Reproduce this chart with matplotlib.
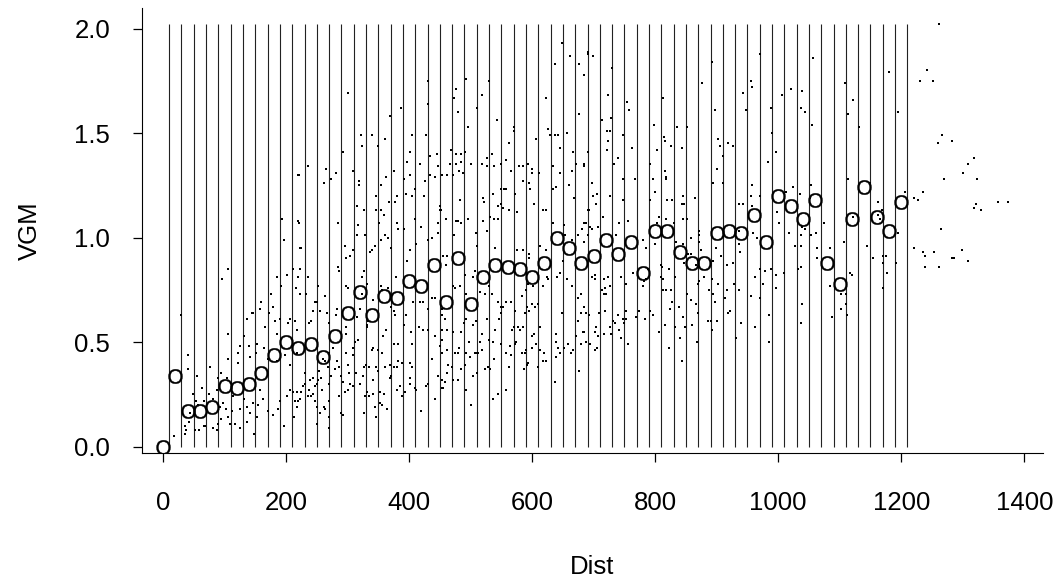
import matplotlib
matplotlib.use('Agg')
import matplotlib.pyplot as plt
from matplotlib.path import Path
from matplotlib.textpath import TextPath
from matplotlib.font_manager import FontProperties

plt.rcParams['font.family'] = 'Liberation Sans'

# binned semivariance, bin centres every 20
bin_dist = list(range(0, 1201, 20))
bin_vgm = [0.00, 0.34, 0.17, 0.17, 0.19, 0.29, 0.28, 0.30, 0.35, 0.44,
           0.50, 0.47, 0.49, 0.43, 0.53, 0.64, 0.74, 0.63, 0.72, 0.71,
           0.79, 0.77, 0.87, 0.69, 0.90, 0.68, 0.81, 0.87, 0.86, 0.85,
           0.81, 0.88, 1.00, 0.95, 0.88, 0.91, 0.99, 0.92, 0.98, 0.83,
           1.03, 1.03, 0.93, 0.88, 0.88, 1.02, 1.03, 1.02, 1.11, 0.98,
           1.20, 1.15, 1.09, 1.18, 0.88, 0.78, 1.09, 1.24, 1.10, 1.03,
           1.17]
bin_breaks = list(range(10, 1211, 20))

cloud_a = [(29,0.63),(18,0.05),(35,0.06),(36,0.10),(37,0.08),(43,0.12),(44,0.16),(40,0.44),(41,0.37),(56,0.34),
    (52,0.08),(59,0.08),(66,0.10),(68,0.10),(49,0.25),(54,0.22),(57,0.20),(63,0.28),(66,0.22),(74,0.25),
    (76,0.38),(82,0.23),(82,0.09),(87,0.27),(87,0.08),(90,0.33),(90,0.11),(93,0.19),(95,0.35),(95,0.13),
    (96,0.80),(98,0.21),(103,0.18),(104,0.33),(105,0.42),(106,0.85),(106,0.54),(106,0.14),(109,0.11),(112,0.17),
    (114,0.24),(117,0.11),(122,0.45),(122,0.40),(125,0.48),(125,0.18),(125,0.09),(131,0.53),(131,0.23),(136,0.61),
    (136,0.19),(136,0.12),(139,0.48),(141,0.43),(141,0.16),(144,0.64),(147,0.64),(147,0.21),(148,0.06),(151,0.45),
    (152,0.49),(152,0.14),(155,0.20),(158,0.66),(158,0.27),(160,0.69),(163,0.23),(164,0.47),(166,0.57),(170,0.42),
    (171,0.17),(172,0.64),(175,0.73),(179,0.67),(179,0.15),(182,0.60),(185,0.54),(185,0.41),(186,0.81),(187,0.18),
    (190,0.61),(190,0.22),(192,0.77),(193,1.09),(196,0.99),(196,0.10),(198,0.44),(201,0.24),(202,0.82),(203,0.59),
    (206,0.61),(206,0.39),(206,0.27),(211,0.85),(212,0.26),(213,0.14),(214,0.60),(214,0.22),(216,0.76),(217,0.56),
    (217,0.45),(217,0.19),(220,1.30),(220,1.08),(220,0.81),(222,0.95)]

cloud_b = [(300,1.69),(431,1.75),(430,1.64),(387,1.62),(369,1.58),(340,1.49),(321,1.49),(361,1.47),(405,1.49),(427,1.49),
    (323,1.44),(350,1.44),(292,1.41),(401,1.41),(446,1.40),(434,1.39),(396,1.36),(417,1.35),(236,1.34),(221,1.30),
    (265,1.33),(273,1.28),(262,1.26),(281,1.31),(309,1.32),(318,1.27),(319,1.25),(375,1.32),(363,1.29),(354,1.25),
    (401,1.30),(391,1.28),(410,1.23),(395,1.21),(381,1.20),(368,1.17),(377,1.17),(405,1.20),(425,1.20),(434,1.30),
    (442,1.29),(447,1.34),(426,1.27),(347,1.20),(315,1.15),(327,1.13),(347,1.13),(354,1.13),(360,1.11),(351,1.07),
    (284,1.07),(221,1.07),(317,1.06),(381,1.07),(409,1.09),(450,1.15),(452,1.13),(447,1.07),(447,1.02),(438,1.00),
    (430,0.99),(420,1.05),(412,0.97),(401,0.94),(392,1.04),(396,0.89),(382,1.04),(371,0.95),(361,1.01),(366,1.00),
    (354,0.99),(344,0.96),(336,0.93),(340,0.94),(328,1.01),(315,1.01),(308,0.94),(304,0.91),(297,0.90),(295,0.96),
    (285,0.86),(286,0.84),(225,0.95),(223,0.85),(220,0.81),(235,0.81),(233,0.73),(223,0.73),(252,0.77),(264,0.72),
    (251,0.69),(244,0.65),(247,0.69),(255,0.65),(237,0.59),(241,0.60),(267,0.64),(269,0.59),(281,0.63),(283,0.66),
    (298,0.77),(301,0.76),(323,0.81),(327,0.84),(332,0.78),(316,0.62),(320,0.66),(324,0.73),(334,0.60),(332,0.58),
    (342,0.70),(354,0.77),(356,0.75),(366,0.76),(371,0.67),(375,0.65),(377,0.63),(378,0.81),(390,0.69),(395,0.63),
    (391,0.58),(407,0.69),(417,0.69),(422,0.69),(431,0.66),(438,0.71),(442,0.71),(453,0.66),(453,0.63),(416,0.57),
    (423,0.56),(403,0.55),(405,0.49),(382,0.49),(375,0.49),(363,0.56),(358,0.53),(350,0.46),(356,0.45),(349,0.36),
    (342,0.47),(339,0.46),(331,0.57),(330,0.39),(327,0.38),(317,0.51),(312,0.50),(309,0.47),(298,0.45),(298,0.57),
    (297,0.54),(300,0.39),(303,0.35),(293,0.31),(286,0.38),(289,0.34),(279,0.37),(282,0.41),(276,0.47),(269,0.45),
    (268,0.38),(264,0.41),(260,0.42),(254,0.36),(257,0.33),(252,0.32),(250,0.30),(247,0.29),(244,0.33),(239,0.32),
    (237,0.27),(235,0.24),(228,0.29),(225,0.26),(223,0.23),(220,0.22),(217,0.26),(231,0.30),(230,0.35),(240,0.24),
    (243,0.25),(247,0.22),(250,0.19),(251,0.11),(262,0.19),(263,0.18),(269,0.22),(270,0.14),(270,0.09),(255,0.16),
    (258,0.27),(269,0.30),(273,0.34),(286,0.24),(289,0.16),(293,0.15),(296,0.26),(301,0.27),(304,0.30),(309,0.29),
    (313,0.35),(320,0.30),(325,0.34),(327,0.16),(331,0.26),(335,0.24),(341,0.25),(344,0.19),(347,0.14),(353,0.21),
    (356,0.20),(360,0.25),(353,0.26),(364,0.18),(369,0.33),(371,0.34),(380,0.27),(385,0.29),(389,0.24),(393,0.26),
    (401,0.33),(401,0.30),(404,0.38),(410,0.28),(412,0.27),(419,0.17),(427,0.29),(431,0.30),(442,0.23),(447,0.34),
    (453,0.28),(438,0.42),(380,0.38),(382,0.41),(376,0.38),(401,0.40),(389,0.40),(369,0.39),(361,0.38),(342,0.32),
    (347,0.38),(335,0.38),(328,0.24),(308,0.44),(431,0.56),(453,0.51),(453,0.45),(442,0.53),(450,0.48)]

cloud_c = [(649,1.93),(661,1.87),(690,1.88),(637,1.83),(676,1.83),(684,1.78),(493,1.76),(530,1.75),(477,1.71),(473,1.67),
    (519,1.68),(511,1.62),(622,1.67),(480,1.60),(676,1.59),(496,1.53),(543,1.56),(626,1.52),(629,1.49),(637,1.49),
    (642,1.49),(657,1.50),(607,1.47),(570,1.53),(570,1.51),(563,1.45),(646,1.43),(468,1.42),(667,1.41),(690,1.41),
    (477,1.40),(484,1.40),(491,1.41),(476,1.35),(466,1.35),(485,1.36),(500,1.35),(481,1.32),(461,1.30),(472,1.30),
    (453,1.30),(487,1.31),(518,1.35),(527,1.38),(535,1.40),(527,1.34),(538,1.34),(550,1.35),(557,1.37),(565,1.32),
    (579,1.34),(585,1.34),(593,1.35),(600,1.33),(599,1.31),(611,1.31),(585,1.27),(572,1.21),(595,1.26),(596,1.23),
    (603,1.16),(634,1.34),(646,1.31),(665,1.32),(672,1.35),(685,1.35),(660,1.25),(639,1.24),(634,1.23),(537,1.21),
    (550,1.23),(554,1.23),(558,1.23),(520,1.19),(522,1.17),(482,1.18),(549,1.16),(545,1.15),(553,1.14),(563,1.13),
    (576,1.12),(618,1.13),(623,1.13),(668,1.19),(691,1.13),(450,1.13),(460,1.09),(476,1.08),(480,1.08),(484,1.07),
    (496,1.09),(520,1.08),(526,1.03),(531,1.10),(538,1.09),(545,1.09),(508,1.02),(473,1.01),(510,0.96),(539,0.95),
    (576,0.94),(585,0.94),(595,0.92),(595,0.90),(612,0.96),(623,0.94),(634,1.07),(651,1.06),(654,1.01),(665,0.99),
    (681,1.04),(688,1.07),(690,1.01),(684,0.98),(674,1.01),(455,0.91),(460,0.87),(461,0.91),(471,0.77),(474,0.76),
    (482,0.77),(491,0.82),(492,0.73),(504,0.81),(507,0.84),(515,0.74),(523,0.73),(534,0.73),(530,0.77),(545,0.69),
    (549,0.67),(553,0.67),(558,0.69),(566,0.69),(572,0.65),(583,0.72),(590,0.75),(593,0.78),(602,0.77),(604,0.67),
    (610,0.68),(599,0.68),(618,0.77),(624,0.81),(626,0.80),(641,0.81),(646,0.83),(650,0.89),(656,0.80),(665,0.77),
    (675,0.71),(680,0.73),(685,0.67),(688,0.64),(680,0.64),(675,0.60),(683,0.55),(688,0.50),(680,0.49),(672,0.53),
    (676,0.36),(667,0.46),(663,0.45),(658,0.49),(651,0.47),(646,0.45),(642,0.47),(638,0.50),(637,0.31),(638,0.54),
    (649,0.64),(623,0.41),(618,0.41),(619,0.45),(610,0.38),(607,0.49),(603,0.54),(599,0.47),(590,0.46),(592,0.39),
    (586,0.37),(585,0.57),(580,0.56),(577,0.57),(570,0.57),(568,0.56),(564,0.48),(563,0.38),(557,0.45),(558,0.27),
    (550,0.49),(545,0.25),(537,0.23),(538,0.42),(537,0.50),(530,0.51),(528,0.38),(531,0.37),(523,0.37),(518,0.46),
    (518,0.54),(512,0.45),(510,0.35),(507,0.45),(504,0.34),(501,0.20),(499,0.43),(498,0.50),(492,0.45),(491,0.39),
    (485,0.37),(484,0.55),(481,0.47),(480,0.32),(480,0.45),(475,0.45),(472,0.32),(471,0.55),(469,0.38),(463,0.39),
    (461,0.35),(458,0.31),(455,0.28),(453,0.32),(462,0.46),(461,0.56),(453,0.56),(458,0.61),(493,0.27),(493,0.61),
    (489,0.59),(504,0.58),(508,0.60),(510,0.45),(515,0.50),(526,0.61),(539,0.56),(546,0.61),(550,0.64),(566,0.44),
    (572,0.49),(574,0.50),(583,0.45),(588,0.45),(593,0.40),(599,0.53),(612,0.57),(612,0.46),(639,0.43),(591,0.67),
    (588,0.64),(595,0.65)]

cloud_d = [(690,1.89),(699,1.87),(730,1.81),(724,1.68),(755,1.65),(757,1.61),(713,1.56),(728,1.57),(721,1.51),(726,1.51),
    (724,1.46),(721,1.42),(747,1.49),(740,1.38),(733,1.35),(763,1.43),(691,1.41),(685,1.34),(812,1.67),(798,1.54),
    (814,1.48),(816,1.46),(825,1.44),(803,1.42),(791,1.35),(796,1.28),(816,1.32),(818,1.29),(818,1.28),(800,1.22),
    (791,1.18),(768,1.28),(747,1.28),(747,1.18),(698,1.26),(699,1.20),(706,1.21),(704,1.16),(692,1.13),(726,1.20),
    (715,1.10),(707,1.05),(694,1.05),(697,1.04),(685,1.07),(742,1.07),(756,1.08),(736,1.01),(780,0.99),(785,0.95),
    (803,1.07),(807,1.10),(818,1.09),(800,0.97),(820,1.18),(827,1.18),(836,1.53),(851,1.53),(844,1.43),(876,1.74),
    (897,1.61),(892,1.84),(902,1.47),(905,1.44),(918,1.45),(926,1.44),(910,1.39),(901,1.33),(894,1.26),(910,1.26),
    (864,1.19),(845,1.20),(844,1.16),(847,1.16),(845,1.09),(852,1.09),(831,1.07),(834,0.98),(845,0.97),(858,1.00),
    (872,1.03),(872,1.01),(872,0.98),(875,0.94),(859,0.92),(853,0.92),(866,0.87),(847,0.88),(894,0.89),(899,0.95),
    (907,0.91),(916,0.87),(926,0.88),(698,0.81),(702,0.80),(703,0.82),(717,0.80),(723,0.81),(719,0.76),(726,0.77),
    (713,0.75),(717,0.73),(720,0.73),(744,0.81),(752,0.78),(764,0.83),(780,0.77),(788,0.85),(785,0.80),(782,0.79),
    (809,0.87),(811,0.86),(810,0.81),(813,0.80),(822,0.85),(813,0.75),(818,0.75),(825,0.75),(827,0.69),(824,0.66),
    (832,0.81),(838,0.67),(845,0.62),(851,0.73),(859,0.70),(867,0.68),(870,0.64),(870,0.78),(872,0.79),(879,0.81),
    (888,0.75),(894,0.73),(893,0.80),(902,0.78),(897,0.69),(913,0.71),(916,0.75),(919,0.64),(688,0.64),(692,0.63),
    (685,0.55),(694,0.49),(702,0.55),(704,0.57),(707,0.53),(705,0.47),(703,0.46),(708,0.64),(717,0.54),(719,0.65),
    (726,0.57),(729,0.54),(731,0.60),(735,0.59),(740,0.63),(742,0.56),(744,0.52),(747,0.61),(750,0.59),(753,0.61),
    (752,0.65),(756,0.49),(769,0.62),(773,0.65),(783,0.61),(791,0.65),(796,0.63),(807,0.55),(816,0.58),(822,0.47),
    (833,0.57),(841,0.52),(844,0.41),(848,0.57),(860,0.58),(868,0.50),(886,0.60),(891,0.60),(893,0.56),(901,0.60)]

cloud_e = [(970,1.88),(1056,1.86),(956,1.75),(958,1.72),(942,1.69),(947,1.61),(1006,1.68),(1020,1.71),(1039,1.70),(1037,1.62),
    (1043,1.60),(989,1.62),(1055,1.54),(990,1.50),(997,1.41),(983,1.36),(1109,1.74),(1122,1.66),(1113,1.59),(1132,1.53),
    (927,1.44),(1113,1.28),(958,1.25),(956,1.20),(971,1.20),(942,1.16),(936,1.16),(957,1.15),(1012,1.22),(1024,1.24),
    (1036,1.21),(1054,1.25),(1051,1.19),(998,1.12),(1001,1.07),(1017,1.02),(1027,0.96),(1039,1.05),(1044,1.04),(1037,1.01),
    (1037,0.96),(1054,1.01),(1061,1.02),(1063,0.95),(1074,1.07),(1063,0.90),(1085,0.95),(1107,0.98),(1122,1.10),(1149,1.26),
    (1163,1.17),(1145,0.96),(1154,0.90),(936,1.03),(936,0.97),(938,0.93),(927,0.88),(959,1.02),(965,1.00),(970,0.85),
    (978,0.84),(963,0.81),(928,0.78),(936,0.75),(955,0.72),(971,0.71),(975,0.78),(989,0.85),(996,0.82),(997,0.76),
    (1010,0.83),(1032,0.85),(1037,0.86),(1085,0.77),(1087,0.62),(1102,0.73),(1110,0.73),(1102,0.66),(1110,0.68),(1112,0.63),
    (1116,0.83),(1120,0.82),(921,0.65),(940,0.59),(931,0.52),(963,0.57),(985,0.63),(985,0.50),(1039,0.68),(1037,0.59)]

cloud_f = [(1262,2.02),(1180,1.79),(1242,1.80),(1230,1.75),(1251,1.75),(1194,1.60),(1266,1.49),(1259,1.45),(1282,1.46),(1319,1.38),
    (1309,1.35),(1300,1.31),(1323,1.28),(1270,1.28),(1206,1.22),(1235,1.22),(1221,1.19),(1228,1.18),(1322,1.16),(1318,1.14),
    (1329,1.13),(1358,1.17),(1373,1.17),(1163,1.17),(1168,1.13),(1162,1.11),(1165,1.09),(1195,1.02),(1264,1.04),(1221,0.95),
    (1235,0.93),(1239,0.91),(1254,0.93),(1238,0.86),(1262,0.86),(1282,0.90),(1285,0.90),(1298,0.94),(1308,0.89),(1170,0.91),
    (1176,0.91),(1170,0.88),(1191,0.88),(1177,0.83),(1170,0.76)]

cloud = cloud_a + cloud_b + cloud_c + cloud_d + cloud_e + cloud_f
cloud_dist = [p[0] for p in cloud]
cloud_vgm = [p[1] for p in cloud]

fig = plt.figure(figsize=(10.57, 5.81), dpi=100)
ax = fig.add_axes([0.1341, 0.2208, 0.8524, 0.7654])

# bin borders
ax.vlines(bin_breaks, 0, max(cloud_vgm), color='#222222', lw=0.8, zorder=1)
ax.plot(cloud_dist, cloud_vgm, 's', ms=2.1, mew=0, color='black', zorder=2)

# letter O as a marker (like pch = "O")
tp = TextPath((0, 0), 'O', prop=FontProperties(family='Liberation Sans'))
ext = tp.get_extents()
o_mark = Path(tp.vertices - [(ext.x0 + ext.x1) / 2, (ext.y0 + ext.y1) / 2], tp.codes)
ax.plot(bin_dist, bin_vgm, ls='none', marker=o_mark, ms=11.5, mfc='black', mec='black', mew=0.25, zorder=3)

ax.set_xlim(-34.6, 1430)
ax.set_ylim(-0.029, 2.098)
ax.spines[['top', 'right']].set_visible(False)
ax.set_xticks(range(0, 1401, 200))
ax.set_yticks([0, 0.5, 1, 1.5, 2])
ax.set_yticklabels(['0.0', '0.5', '1.0', '1.5', '2.0'])
ax.tick_params(labelsize=18.5, length=6.8, width=0.9, direction='out')
ax.tick_params(axis='x', pad=21)
ax.tick_params(axis='y', pad=16)
ax.set_xlabel('Dist', fontsize=18.5)
ax.set_ylabel('VGM', fontsize=18.5)
ax.xaxis.set_label_coords(0.5, -0.23)
ax.yaxis.set_label_coords(-0.1107, 0.5)

fig.savefig('out.png', dpi=100)
